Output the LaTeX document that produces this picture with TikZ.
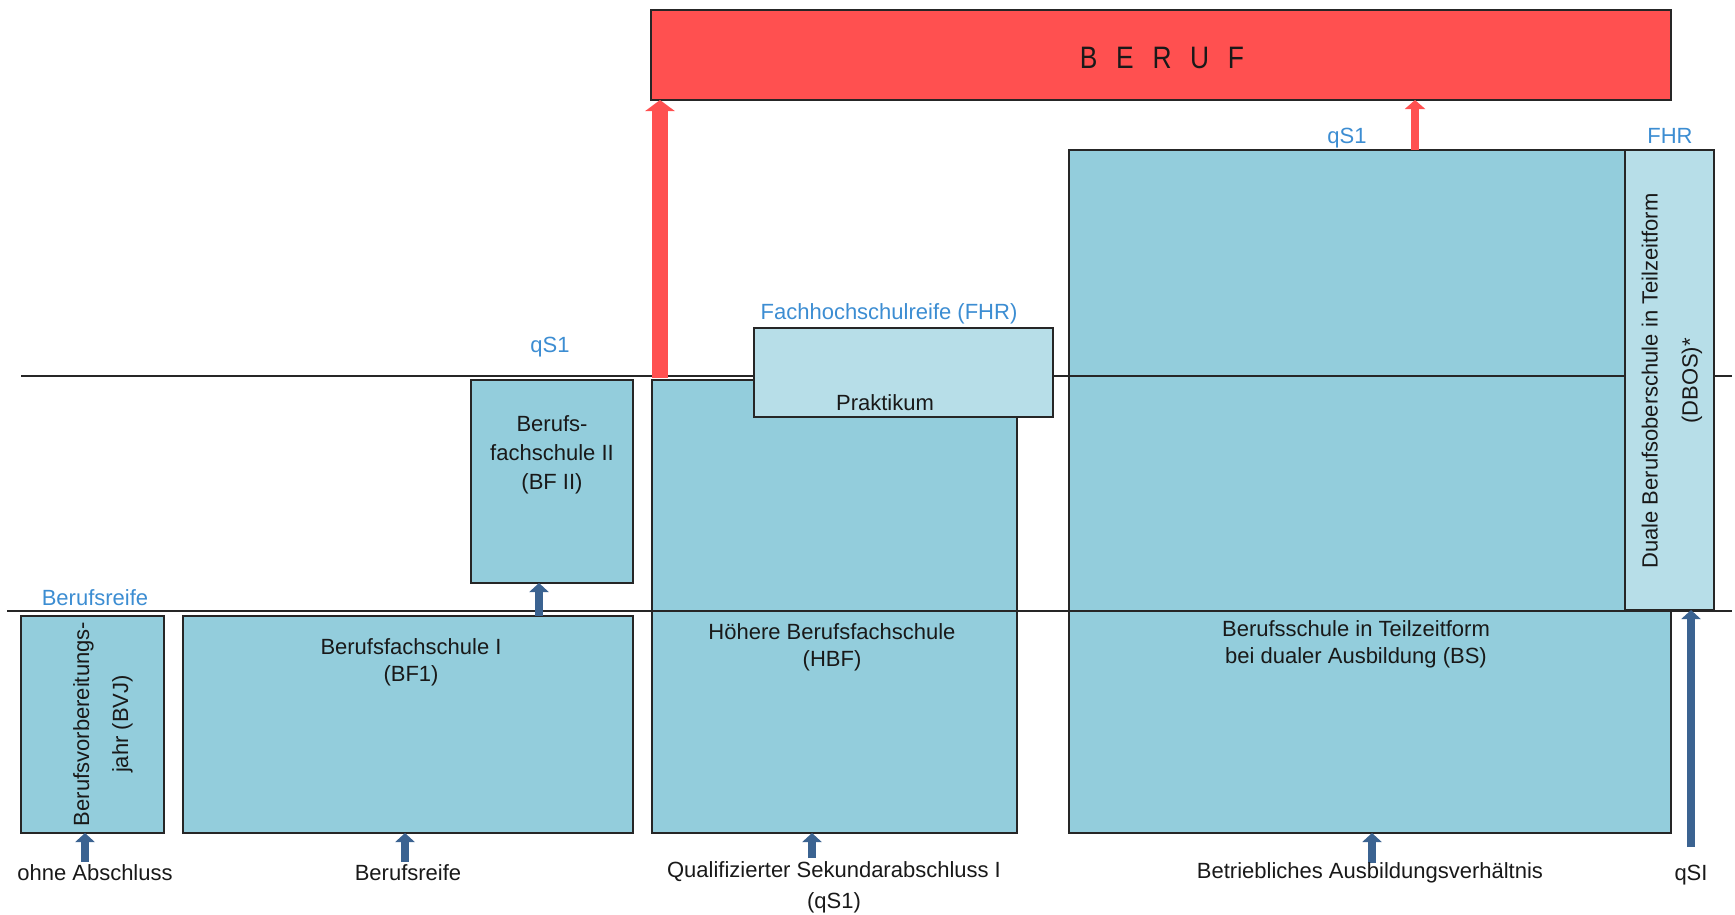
\documentclass[tikz,border=0pt]{standalone}
\usepackage{fontspec}
\setmainfont{Liberation Sans}
\usetikzlibrary{arrows.meta}
\definecolor{boxblue}{HTML}{93CDDC}
\definecolor{lightblue}{HTML}{B7DEE8}
\definecolor{berufred}{HTML}{FF5050}
\definecolor{arrowblue}{HTML}{3B6391}
\definecolor{labelblue}{HTML}{3C8DD2}
\definecolor{edge}{HTML}{262626}

\begin{document}
\begin{tikzpicture}[x=1pt,y=-1pt,
  every node/.style={font=\fontsize{22}{27}\selectfont,inner sep=0pt,text=black!90},
  box/.style={draw=edge,line width=1.5pt,fill=boxblue,anchor=north west,outer sep=0pt},
  lightbox/.style={box,fill=lightblue},
  lab/.style={text=labelblue},
  rule/.style={draw=edge,line width=1.5pt},
  bluearrow/.style={draw=arrowblue,line width=8pt,-{Triangle[width=19pt,length=9pt]}},
  redarrow/.style={draw=berufred,line width=8pt,-{Triangle[width=20pt,length=9pt]}},
  bigredarrow/.style={draw=berufred,line width=16pt,-{Triangle[width=29pt,length=11pt]}}]
\useasboundingbox (0,0) rectangle (1735,914);
%\draw[help lines,step=100] (0,0) grid (1735,914);
\node[box,minimum width=143pt,minimum height=217pt] (bvj) at (21,616) {};
\node[box,minimum width=450pt,minimum height=217pt] (bfone) at (183,616) {};
\node[box,minimum width=162pt,minimum height=203pt] (bftwo) at (471,380) {};
\node[box,minimum width=365pt,minimum height=453pt] (hbf) at (652,380) {};
\node[box,minimum width=602pt,minimum height=683pt] (bs) at (1069,150) {};
\node[box,fill=berufred,minimum width=1020pt,minimum height=90pt] (beruf) at (651,10) {};
% levels
\draw[rule] (21,376) -- (1732,376);
\draw[rule] (7,611) -- (1732,611);
\node[lightbox,minimum width=299pt,minimum height=89pt] (prak) at (754,328) {};
\node[lightbox,minimum width=89pt,minimum height=460pt] (dbos) at (1625,150) {};
% arrows
\coordinate (r1) at (660,378);
\coordinate (r2) at (1415,150);
\draw[bigredarrow] (r1) -- (r1 |- beruf.south);
\draw[redarrow] (r2) -- (r2 |- beruf.south);
\coordinate (b1) at (539,616);
\draw[bluearrow] (b1) -- (b1 |- bftwo.south);
\coordinate (a1) at (85,862);
\coordinate (a2) at (405,862);
\coordinate (a3) at (812,858);
\coordinate (a4) at (1372,863);
\coordinate (a5) at (1691,847);
\draw[bluearrow] (a1) -- (a1 |- bvj.south);
\draw[bluearrow] (a2) -- (a2 |- bfone.south);
\draw[bluearrow] (a3) -- (a3 |- hbf.south);
\draw[bluearrow] (a4) -- (a4 |- bs.south);
\draw[bluearrow,line width=8.5pt] (a5) -- (a5 |- dbos.south);
% texts
\node[xscale=0.85,font=\fontsize{31}{36}\selectfont] (berufname) at (1162,58) {B\hspace{22pt}E\hspace{22pt}R\hspace{22pt}U\hspace{22pt}F};
\node[rotate=90,align=center] (bvjname) at (103,724) {Berufsvorbereitungs-\\[12pt]jahr (BVJ)};
\node[align=center] (bfonename) at (411,662) {Berufsfachschule I\\(BF1)};
\node[align=center] (bftwoname) at (552,455) {Berufs-\\[2pt]fachschule II\\[2pt](BF II)};
\node[align=center] (hbfname) at (832,647) {Höhere Berufsfachschule\\(HBF)};
\node (prakname) at (885,403) {Praktikum};
\node[align=center] (bsname) at (1356,644) {Berufsschule in Teilzeitform\\bei dualer Ausbildung (BS)};
\node[rotate=90,align=center] (dbosname) at (1672,381) {Duale Berufsoberschule in Teilzeitform\\[13pt](DBOS)*};
\node[lab] (reifelab) at (95,598) {Berufsreife};
\node[lab] (qsonelab) at (550,347) {qS1};
\node[lab] (fhrlab) at (889,314) {Fachhochschulreife (FHR)};
\node[lab] (qstwolab) at (1347,138) {qS1};
\node[lab] (fhrtwolab) at (1670,136) {FHR};
\node (ohne) at (95,873) {ohne Abschluss};
\node (reife) at (408,873) {Berufsreife};
\node[align=center] (quali) at (834,887) {Qualifizierter Sekundarabschluss I\\[4pt](qS1)};
\node (betrieb) at (1370,873) {Betriebliches Ausbildungsverhältnis};
\node (qsi) at (1691,875) {qSI};
\end{tikzpicture}
\end{document}
